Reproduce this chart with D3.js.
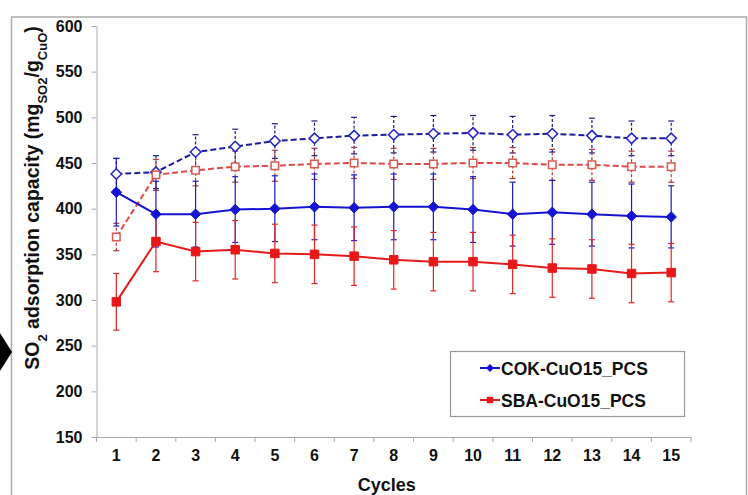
<!DOCTYPE html>
<html>
<head>
<meta charset="utf-8">
<script src="https://cdn.jsdelivr.net/npm/d3@7"></script>
<style>
  body { margin: 0; background: #fff; }
  text { font-family: "Liberation Sans", Arial, sans-serif; font-weight: bold; fill: #111; }
</style>
</head>
<body>
<div id="chart"></div>
<script>
// data
const cycles = [1, 2, 3, 4, 5, 6, 7, 8, 9, 10, 11, 12, 13, 14, 15];
const yTicks = [150, 200, 250, 300, 350, 400, 450, 500, 550, 600];

const cokSolid = [418, 394, 394, 399, 400, 402, 401, 402, 402, 399, 394, 396, 394, 392, 391];
const cokSolidErr = [37, 36, 36, 36, 36, 36, 36, 36, 36, 36, 35, 35, 35, 35, 34];
const cokDash = [438, 440, 462, 468, 474, 477, 480, 481, 482, 483, 481, 482, 480, 477, 477];
const cokDashErr = [17, 18, 19, 19, 19, 19, 20, 20, 20, 19, 20, 20, 19, 19, 19];

const sbaSolid = [298, 364, 353, 355, 351, 350, 348, 344, 342, 342, 339, 335, 334, 329, 330];
const sbaSolidErr = [31, 33, 32, 32, 32, 32, 32, 32, 32, 32, 32, 32, 32, 32, 32];
const sbaDash = [369, 437, 442, 446, 447, 449, 450, 449, 449, 450, 450, 448, 448, 446, 446];
const sbaDashErr = [15, 17, 17, 17, 17, 17, 17, 17, 17, 17, 17, 17, 17, 17, 17];

const legendNames = ["COK-CuO15_PCS", "SBA-CuO15_PCS"];

const W = 748, H = 495;
const svg = d3.select("#chart").append("svg")
    .attr("width", W)
    .attr("height", H);

// outer frame
svg.append("rect")
    .attr("x", 11.5).attr("y", 17)
    .attr("width", 735).attr("height", 490)
    .attr("fill", "none")
    .attr("stroke", "#ababab")
    .attr("stroke-width", 1.5);

// black pointer on the left edge
svg.append("path")
    .attr("d", "M0,333 L12,352 L0,371 Z")
    .attr("fill", "#000");

const x = d3.scaleBand()
    .domain(cycles)
    .range([96.5, 691]);

const y = d3.scaleLinear()
    .domain([150, 600])
    .range([437, 26]);

const cx = c => x(c) + x.bandwidth() / 2;

// axes
const xAxis = svg.append("g")
    .attr("transform", "translate(0,437)")
    .call(d3.axisBottom(x).tickSize(0).tickPadding(13));
xAxis.select(".domain").attr("stroke", "#aaa");
xAxis.selectAll("text").style("font-size", "16px").attr("fill", "#111");
// ticks between categories
xAxis.selectAll(".bound")
    .data(cycles.concat([16]))
    .enter().append("line")
    .attr("x1", (d, i) => x.range()[0] + i * x.step())
    .attr("x2", (d, i) => x.range()[0] + i * x.step())
    .attr("y1", 0).attr("y2", 5)
    .attr("stroke", "#aaa");

const yAxis = svg.append("g")
    .attr("transform", "translate(96.5,0)")
    .call(d3.axisLeft(y).tickValues(yTicks).tickSize(5).tickPadding(9).tickSizeOuter(0));
yAxis.select(".domain").attr("stroke", "#aaa");
yAxis.selectAll("line").attr("stroke", "#aaa");
yAxis.selectAll("text").style("font-size", "16px").attr("fill", "#111");

// axis titles
svg.append("text")
    .attr("x", x.range()[0] + (x.range()[1] - x.range()[0]) / 2 - 7)
    .attr("y", 491)
    .attr("text-anchor", "middle")
    .style("font-size", "18px")
    .text("Cycles");

const yTitle = svg.append("text")
    .attr("transform", "translate(39,198) rotate(-90)")
    .attr("text-anchor", "middle")
    .style("font-size", "19.5px");
yTitle.append("tspan").text("SO");
yTitle.append("tspan").attr("baseline-shift", "sub").style("font-size", "13px").text("2");
yTitle.append("tspan").text(" adsorption capacity (mg");
yTitle.append("tspan").attr("baseline-shift", "sub").style("font-size", "13px").text("SO2");
yTitle.append("tspan").text("/g");
yTitle.append("tspan").attr("baseline-shift", "sub").style("font-size", "13px").text("CuO");
yTitle.append("tspan").text(")");

// series
const series = [
    { vals: cokDash, err: cokDashErr, line: "#1c1c9e", mark: "#2323c8", errColor: "#1c1c80", dash: "6,3", errDash: "3,2", shape: "diamond", open: true },
    { vals: sbaDash, err: sbaDashErr, line: "#dd4a4a", mark: "#d85a50", errColor: "#a83a3a", dash: "6,3", errDash: "3,2", shape: "square", open: true },
    { vals: cokSolid, err: cokSolidErr, line: "#1414d2", mark: "#1414d2", errColor: "#1a1ac8", dash: null, errDash: null, shape: "diamond", open: false },
    { vals: sbaSolid, err: sbaSolidErr, line: "#e51b1b", mark: "#e81818", errColor: "#e02626", dash: null, errDash: null, shape: "square", open: false }
];

const line = d3.line()
    .x((d, i) => cx(cycles[i]))
    .y(d => y(d));

// error bars first
series.forEach(s => {
    const g = svg.append("g")
        .attr("stroke", s.errColor)
        .attr("stroke-width", 1.2);
    s.vals.forEach((v, i) => {
        const px = cx(cycles[i]);
        g.append("line")
            .attr("x1", px).attr("x2", px)
            .attr("y1", y(v - s.err[i])).attr("y2", y(v + s.err[i]))
            .attr("stroke-dasharray", s.errDash);
        [v - s.err[i], v + s.err[i]].forEach(e => {
            g.append("line")
                .attr("x1", px - 3).attr("x2", px + 3)
                .attr("y1", y(e)).attr("y2", y(e));
        });
    });
});

series.forEach(s => {
    svg.append("path")
        .datum(s.vals)
        .attr("d", line)
        .attr("fill", "none")
        .attr("stroke", s.line)
        .attr("stroke-width", 2)
        .attr("stroke-dasharray", s.dash);
});

const diamond = d3.symbol().type(d3.symbolDiamond2);
const square = d3.symbol().type(d3.symbolSquare);

series.forEach(s => {
    svg.append("g").selectAll("path")
        .data(s.vals)
        .enter().append("path")
        .attr("transform", (d, i) => `translate(${cx(cycles[i])},${y(d)})`)
        .attr("d", s.shape === "diamond" ? diamond.size(s.open ? 70 : 70)() : square.size(s.open ? 56 : 72)())
        .attr("fill", s.open ? "#fff" : s.mark)
        .attr("stroke", s.mark)
        .attr("stroke-width", s.open ? 1.5 : 1);
});

// legend
const legend = svg.append("g");
legend.append("rect")
    .attr("x", 450.5).attr("y", 351.5)
    .attr("width", 234).attr("height", 65)
    .attr("fill", "#fff")
    .attr("stroke", "#999")
    .attr("stroke-width", 1.2);

const legendItems = [
    { name: legendNames[0], color: "#1414d2", shape: diamond.size(40)() },
    { name: legendNames[1], color: "#e51b1b", shape: square.size(42)() }
];
legendItems.forEach((d, i) => {
    const yy = 368 + i * 32;
    legend.append("line")
        .attr("x1", 480).attr("x2", 500)
        .attr("y1", yy).attr("y2", yy)
        .attr("stroke", d.color).attr("stroke-width", 2);
    legend.append("path")
        .attr("transform", `translate(490,${yy})`)
        .attr("d", d.shape)
        .attr("fill", d.color);
    legend.append("text")
        .attr("x", 501)
        .attr("y", yy + 6.5)
        .style("font-size", "17.5px")
        .text(d.name);
});
</script>
</body>
</html>
